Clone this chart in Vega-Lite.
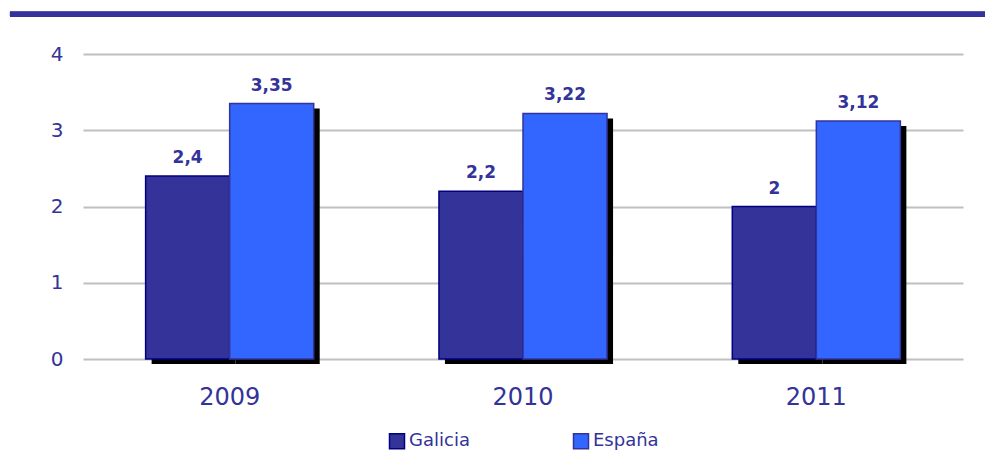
{
  "$schema": "https://vega.github.io/schema/vega-lite/v6.json",
  "autosize": {"type": "none"},
  "padding": {"left": 83, "top": 54, "right": 22, "bottom": 91},
  "width": 880,
  "height": 305,
  "background": "white",
  "config": {
    "locale": {"number": {"decimal": ",", "thousands": ".", "grouping": [3], "currency": ["", " €"]}},
    "font": "DejaVu Sans",
    "view": {"stroke": null},
    "legend": {"layout": {"bottom": {"anchor": "middle"}}}
  },
  "data": {"values": [
    {"year": "2009", "serie": "Galicia", "valor": 2.4},
    {"year": "2009", "serie": "España", "valor": 3.35},
    {"year": "2010", "serie": "Galicia", "valor": 2.2},
    {"year": "2010", "serie": "España", "valor": 3.22},
    {"year": "2011", "serie": "Galicia", "valor": 2.0},
    {"year": "2011", "serie": "España", "valor": 3.12}
  ]},
  "layer": [
    {
      "mark": {"type": "bar", "color": "black", "yOffset": 5, "y2Offset": 3},
      "encoding": {
        "x": {"field": "year", "type": "ordinal", "scale": {"paddingInner": 0.427, "paddingOuter": 0.2135},
              "axis": {"title": null, "labelAngle": 0, "labelFontSize": 24, "labelColor": "#333399", "labelPadding": 26,
                       "domain": false, "ticks": false, "labelFont": "DejaVu Sans"}},
        "xOffset": {"field": "serie", "type": "nominal", "sort": ["Galicia", "España"], "scale": {"range": [6, 174.08]}},
        "y": {"field": "valor", "type": "quantitative", "scale": {"domain": [0, 4]},
              "axis": {"values": [0, 1, 2, 3, 4], "format": "d", "grid": true, "gridColor": "#c0c0c0", "gridWidth": 2,
                       "domain": false, "ticks": false, "labelFontSize": 20, "labelColor": "#333399",
                       "labelPadding": 20, "title": null, "labelFont": "DejaVu Sans"}}
      }
    },
    {
      "mark": {"type": "bar", "strokeWidth": 1.5},
      "encoding": {
        "x": {"field": "year", "type": "ordinal"},
        "xOffset": {"field": "serie", "type": "nominal", "sort": ["Galicia", "España"]},
        "y": {"field": "valor", "type": "quantitative"},
        "fill": {"field": "serie", "type": "nominal", "sort": ["Galicia", "España"],
                 "scale": {"domain": ["Galicia", "España"], "range": ["#333399", "#3366FF"]},
                 "legend": {"orient": "bottom", "direction": "horizontal", "title": null, "symbolType": "square",
                            "symbolSize": 225, "labelFontSize": 18, "labelColor": "#333399", "labelFont": "DejaVu Sans",
                            "columnPadding": 100, "labelOffset": 3, "offset": 23, "symbolStrokeWidth": 1.5}},
        "stroke": {"field": "serie", "type": "nominal", "sort": ["Galicia", "España"],
                   "scale": {"domain": ["Galicia", "España"], "range": ["#000080", "#333399"]}}
      }
    },
    {
      "mark": {"type": "text", "baseline": "alphabetic", "dy": -13, "fontSize": 17, "fontWeight": "bold", "color": "#333399", "font": "DejaVu Sans"},
      "encoding": {
        "x": {"field": "year", "type": "ordinal"},
        "xOffset": {"field": "serie", "type": "nominal", "sort": ["Galicia", "España"]},
        "y": {"field": "valor", "type": "quantitative"},
        "text": {"field": "valor", "type": "quantitative", "format": "~g"}
      }
    },
    {
      "mark": {"type": "rule", "color": "#333399", "strokeWidth": 5, "xOffset": -219.7, "x2Offset": 168.7},
      "encoding": {"x": {"datum": "2009"}, "x2": {"datum": "2011"}, "y": {"datum": 4.52}}
    }
  ],
  "resolve": {"scale": {"xOffset": "independent"}}
}
